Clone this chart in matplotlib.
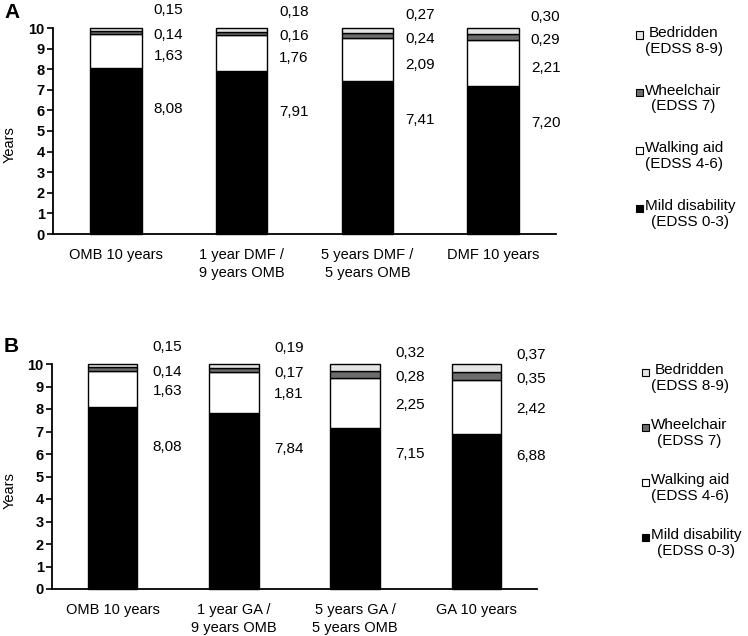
import matplotlib
matplotlib.use("Agg")
import matplotlib.pyplot as plt
from matplotlib.patches import Rectangle

plt.rcParams['font.family'] = ['Liberation Sans', 'DejaVu Sans']

# data
kategorier_a = ["OMB 10 years", "1 year DMF /\n9 years OMB", "5 years DMF /\n5 years OMB", "DMF 10 years"]
kategorier_b = ["OMB 10 years", "1 year GA /\n9 years OMB", "5 years GA /\n5 years OMB", "GA 10 years"]

mild_a = [8.08, 7.91, 7.41, 7.20]
walking_a = [1.63, 1.76, 2.09, 2.21]
wheel_a = [0.14, 0.16, 0.24, 0.29]
bed_a = [0.15, 0.18, 0.27, 0.30]

mild_b = [8.08, 7.84, 7.15, 6.88]
walking_b = [1.63, 1.81, 2.25, 2.42]
wheel_b = [0.14, 0.17, 0.28, 0.35]
bed_b = [0.15, 0.19, 0.32, 0.37]

legend_navn = ["Bedridden\n(EDSS 8-9)", "Wheelchair\n(EDSS 7)", "Walking aid\n(EDSS 4-6)", "Mild disability\n(EDSS 0-3)"]
farger = ["#e4e4e4", "#6c6c6c", "white", "black"]  # bed, wheel, walk, mild

W, H = 748, 636
fig = plt.figure(figsize=(W / 100, H / 100), dpi=100)


def fmt(v):
    return f"{v:.2f}".replace('.', ',')


def tegn_panel(rect, kategorier, mild, walk, wheel, bed, lab_dx, mild_lab, walk_sh, bed_lab):
    ax = fig.add_axes(rect)
    x = list(range(len(kategorier)))
    bw = 0.41
    bunn = [0] * len(x)
    serier = [mild, walk, wheel, bed]
    fargeliste = [farger[3], farger[2], farger[1], farger[0]]
    for verdier, f in zip(serier, fargeliste):
        ax.bar(x, verdier, bw, bottom=bunn, color=f, edgecolor="black", linewidth=1.0, clip_on=False)
        bunn = [b + v for b, v in zip(bunn, verdier)]

    # verdietiketter til hoyre for stolpene
    for i in range(len(x)):
        xl = i + lab_dx
        ys = [mild_lab(mild[i]),
              mild[i] + walk[i] / 2 + walk_sh,
              mild[i] + walk[i] + wheel[i] / 2 - 0.13,
              bed_lab(bed[i])]
        for v, y in zip([mild[i], walk[i], wheel[i], bed[i]], ys):
            ax.text(xl, y, fmt(v), ha="left", va="center", fontsize=11)

    ax.set_xlim(-0.5, 3.5)
    ax.set_ylim(0, 10)
    ax.set_yticks(range(0, 11))
    ax.set_xticks(x)
    ax.set_xticklabels(kategorier, fontsize=10.5, linespacing=1.35)
    ax.tick_params(axis="x", length=0, pad=10)
    ax.tick_params(axis="y", length=4, width=1.2, pad=2, labelsize=10.5)
    for t in ax.get_yticklabels():
        t.set_fontweight("bold")
    for s in ["top", "right"]:
        ax.spines[s].set_visible(False)
    for s in ["left", "bottom"]:
        ax.spines[s].set_linewidth(1.3)
    return ax


# panel A
axA = tegn_panel([53 / W, 1 - 234 / H, 503 / W, 206 / H], kategorier_a,
                 mild_a, walking_a, wheel_a, bed_a, 0.30,
                 lambda v: 0.75 * v, -0.25, lambda v: 11.15 - 2.0 * v)
# panel B
axB = tegn_panel([52 / W, 1 - 589 / H, 485 / W, 225 / H], kategorier_b,
                 mild_b, walking_b, wheel_b, bed_b, 0.33,
                 lambda v: 0.35 * v + 3.5, -0.1, lambda v: 11.0 - 1.6 * v)

fig.text(4 / W, 1 - 12 / H, "A", fontsize=15, fontweight="bold", va="center", ha="left")
fig.text(4 / W, 1 - 346 / H, "B", fontsize=15, fontweight="bold", va="center", ha="left")
fig.text(10 / W, 1 - 145 / H, "Years", rotation=90, fontsize=10.5, ha="center", va="center")
fig.text(10 / W, 1 - 491 / H, "Years", rotation=90, fontsize=10.5, ha="center", va="center")


def tegn_legende(sq_x, tekst_x, y0, dy):
    for i, (navn, f) in enumerate(zip(legend_navn, farger)):
        y = y0 + i * dy
        fig.add_artist(Rectangle((sq_x / W, 1 - (y + 3.5) / H), 7 / W, 7 / H,
                                 facecolor=f, edgecolor="black", linewidth=0.8,
                                 transform=fig.transFigure))
        fig.text(tekst_x / W, 1 - (y - 9) / H, navn, ha="left", va="top",
                 multialignment="center", fontsize=11, linespacing=1.15)


tegn_legende(636, 645, 35, 57.7)
tegn_legende(642, 651, 372, 55)

fig.savefig("out.png", dpi=100)
